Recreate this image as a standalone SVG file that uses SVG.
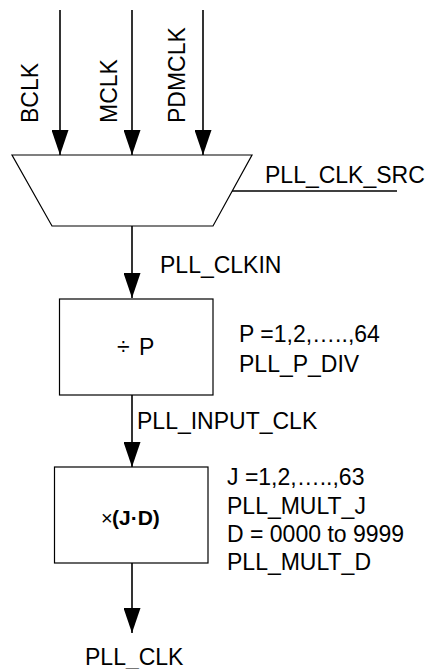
<svg xmlns="http://www.w3.org/2000/svg" width="431" height="669" viewBox="0 0 431 669">
<defs>
<marker id="ah" markerUnits="userSpaceOnUse" markerWidth="25" markerHeight="17" refX="25" refY="8.5" orient="auto">
<path d="M0,0 L25,8.5 L0,17 Z" fill="#000"/>
</marker>
<style>
text{font-family:"Liberation Sans",Arial,sans-serif;font-size:23px;fill:#000}
.shape{fill:#fff;stroke:#000;stroke-width:1.2}
.conn{stroke:#000;stroke-width:1.6;fill:none}
.arr{marker-end:url(#ah)}
.op{font-size:20px}
.bold{font-size:21px;font-weight:bold}
</style>
</defs>
<rect width="431" height="669" fill="#fff"/>
<g id="connectors">
<line class="conn arr" x1="60" y1="10" x2="60" y2="155"/>
<line class="conn arr" x1="132" y1="10" x2="132" y2="155"/>
<line class="conn arr" x1="203" y1="10" x2="203" y2="155"/>
<line class="conn arr" x1="132" y1="226" x2="132" y2="298"/>
<line class="conn arr" x1="132" y1="395" x2="132" y2="467"/>
<line class="conn arr" x1="132" y1="563" x2="132" y2="633"/>
<line class="conn" x1="232" y1="191" x2="397" y2="191"/>
</g>
<g id="labels">
<text transform="translate(38,123) rotate(-90)">BCLK</text>
<text transform="translate(117,123) rotate(-90)">MCLK</text>
<text transform="translate(185,123) rotate(-90)">PDMCLK</text>
<text x="265" y="183">PLL_CLK_SRC</text>
<text x="160" y="273">PLL_CLKIN</text>
<text x="137" y="429">PLL_INPUT_CLK</text>
<text x="85" y="665">PLL_CLK</text>
</g>
<g id="mux">
<polygon class="shape" points="12,155 252,155 213,226 52,226"/>
</g>
<g id="pdiv">
<rect class="shape" x="59.5" y="299" width="153.5" height="96"/>
<text x="117" y="355">÷<tspan x="139">P</tspan></text>
<text x="239" y="342">P =1,2,…..,64</text>
<text x="239" y="372">PLL_P_DIV</text>
</g>
<g id="jdmult">
<rect class="shape" x="54.5" y="467" width="153.5" height="96"/>
<text x="101" y="525"><tspan class="op">×</tspan><tspan class="bold" x="112">(J·D)</tspan></text>
<text x="227" y="485">J =1,2,…..,63</text>
<text x="227" y="514">PLL_MULT_J</text>
<text x="227" y="542">D = 0000 to 9999</text>
<text x="227" y="570">PLL_MULT_D</text>
</g>
</svg>
